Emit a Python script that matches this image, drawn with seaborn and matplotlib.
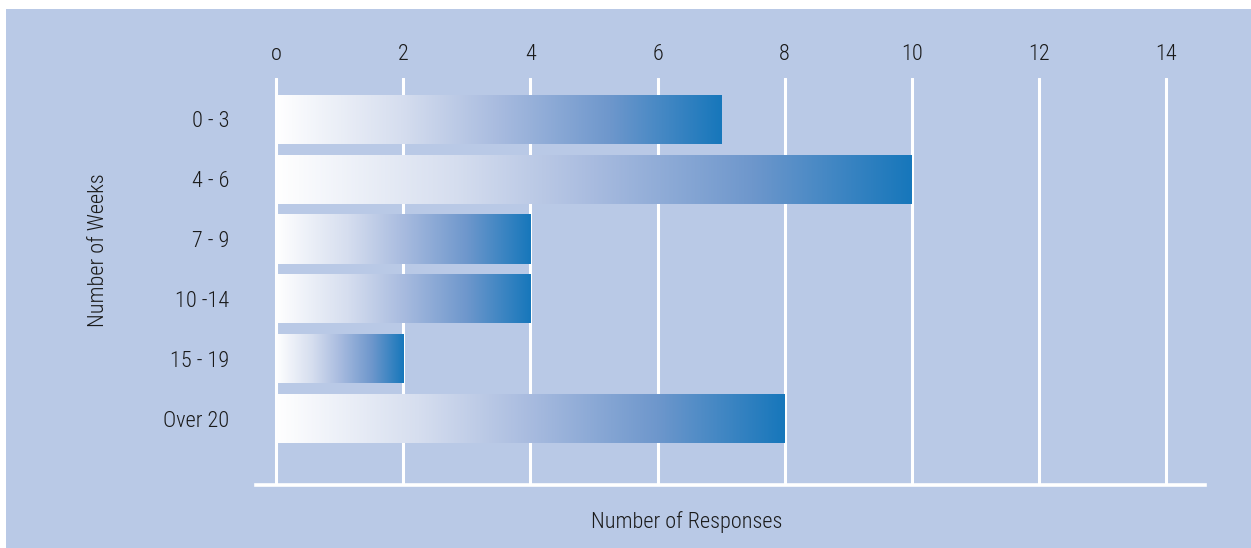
import numpy as np
import pandas as pd
import matplotlib
matplotlib.use("Agg")
import matplotlib.pyplot as plt
from matplotlib import font_manager
from matplotlib.colors import LinearSegmentedColormap
from matplotlib.patches import Rectangle
import seaborn as sns

# Survey data: number of responses per waiting-time bracket
weeks = ["0 - 3", "4 - 6", "7 - 9", "10 -14", "15 - 19", "Over 20"]
responses = [7, 10, 4, 4, 2, 8]
x_ticks = [0, 2, 4, 6, 8, 10, 12, 14]
x_tick_labels = ["o", "2", "4", "6", "8", "10", "12", "14"]

sns.set_theme(style="white")

# Prefer a condensed grotesque face when one is available
available = {f.name for f in font_manager.fontManager.ttflist}
candidates = ["Roboto Condensed", "Liberation Sans Narrow", "Archivo Narrow",
              "PT Sans Narrow", "Pragati Narrow", "Fira Sans Condensed",
              "IBM Plex Sans Condensed", "Encode Sans Condensed",
              "Open Sans Condensed", "Asap Condensed", "Barlow Semi Condensed",
              "Roboto"]
family = next((c for c in candidates if c in available), "DejaVu Sans")
plt.rcParams["font.family"] = [family, "DejaVu Sans"]
plt.rcParams["font.weight"] = "light"
plt.rcParams["axes.labelweight"] = "light"

BG = "#b9c9e6"
TEXT = "#1a1a1a"
W, H = 1251, 548

fig = plt.figure(figsize=(W / 100, H / 100), dpi=100, facecolor="white")
fig.patches.append(Rectangle((6 / W, 0), 1, 1 - 9 / H, transform=fig.transFigure,
                             facecolor=BG, edgecolor="none", zorder=-10))
ax = fig.add_axes([256 / W, 1 - 485 / H, (1205 - 256) / W, (485 - 78) / H])
ax.set_facecolor(BG)

df = pd.DataFrame({"weeks": weeks, "responses": responses})
sns.barplot(data=df, x="responses", y="weeks", orient="h", width=0.82,
            color="#1777bb", saturation=1, ax=ax)

# Horizontal white-to-blue gradient fill for each bar
cmap = LinearSegmentedColormap.from_list(
    "bar_fade",
    [(0.0, "#ffffff"), (0.28, "#d6deef"), (0.5, "#a8bbdf"),
     (0.75, "#6e97cc"), (1.0, "#1777bb")])
grad = np.linspace(0, 1, 256).reshape(1, -1)
for p in ax.patches:
    x0, y0 = p.get_x(), p.get_y()
    w, h = p.get_width(), p.get_height()
    im = ax.imshow(grad, cmap=cmap, aspect="auto", interpolation="bilinear",
                   extent=[x0, x0 + w, y0 + h, y0], zorder=2)
    im.set_clip_path(p)
    p.set_facecolor("none")
    p.set_edgecolor("none")

ax.set_xlim(-0.315, 14.61)
ax.set_ylim(6.11, -0.69)

ax.set_xticks(x_ticks)
ax.set_xticklabels(x_tick_labels)
ax.xaxis.tick_top()
ax.xaxis.set_label_position("bottom")
ax.grid(axis="x", color="white", linewidth=2.2)
ax.grid(axis="y", visible=False)
ax.set_axisbelow(True)

for side in ["top", "left", "right"]:
    ax.spines[side].set_visible(False)
ax.spines["bottom"].set_color("white")
ax.spines["bottom"].set_linewidth(2.6)

ax.tick_params(axis="x", length=0, pad=9, labelsize=16, labelcolor=TEXT)
ax.tick_params(axis="y", length=0, pad=19, labelsize=16, labelcolor=TEXT)

ax.set_xlabel("Number of Responses", fontsize=16, color=TEXT, fontweight="light")
ax.set_ylabel("Number of Weeks", fontsize=16, color=TEXT, fontweight="light")
ax.xaxis.set_label_coords(0.454, -0.064)
ax.yaxis.set_label_coords(-0.155, 0.577)

fig.savefig("out.png", dpi=100, facecolor="white")
